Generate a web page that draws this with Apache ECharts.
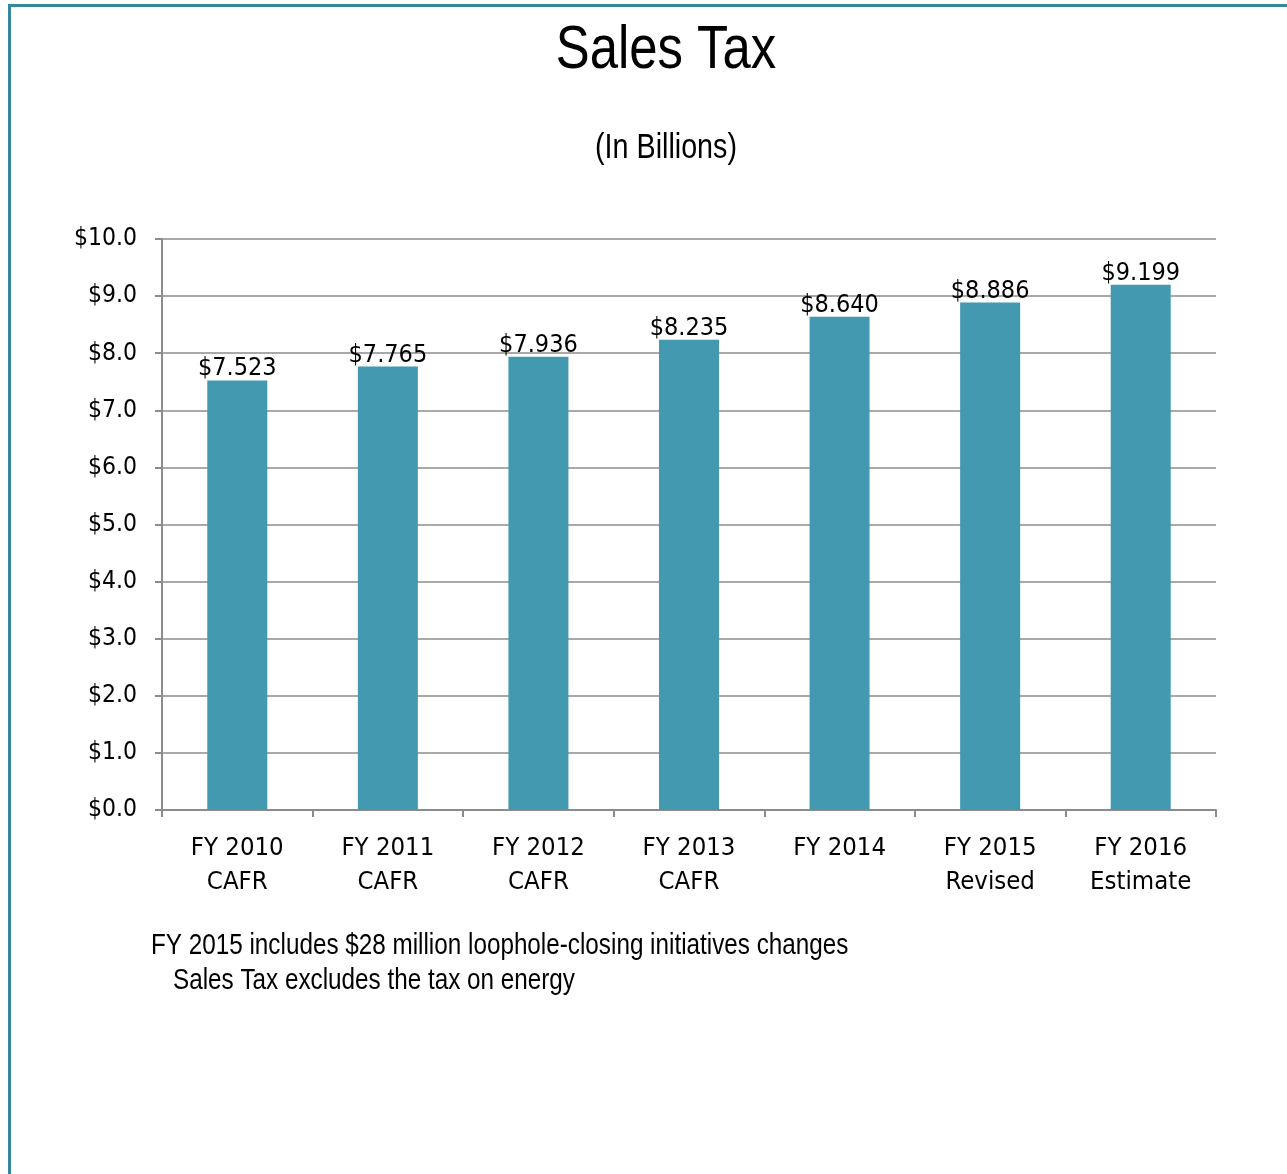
<!DOCTYPE html>
<html><head><meta charset="utf-8">
<script src="https://cdn.jsdelivr.net/npm/echarts@6/dist/echarts.min.js"></script>
<style>html,body{margin:0;padding:0;background:#fff;}#c{width:1287px;height:1174px;}</style>
</head><body><div id="c"></div>
<script>
var categories = ['FY 2010\nCAFR','FY 2011\nCAFR','FY 2012\nCAFR','FY 2013\nCAFR','FY 2014','FY 2015\nRevised','FY 2016\nEstimate'];
var salesTax = [7.523, 7.765, 7.936, 8.235, 8.640, 8.886, 9.199];
var titleText = 'Sales Tax';
var subtitleText = '(In Billions)';
var noteLines = ['FY 2015 includes $28 million loophole-closing initiatives changes', 'Sales Tax excludes the tax on energy'];

var FONT = '"DejaVu Sans Condensed","Liberation Sans",sans-serif';
var NARROW = '"Liberation Sans",Arial,sans-serif';
var SX = 0.82;
var chart = echarts.init(document.getElementById('c'));
chart.setOption({
  backgroundColor: '#fff',
  animation: false,
  grid: {left: 162, right: 71, top: 239, bottom: 364, containLabel: false},
  xAxis: {
    type: 'category', data: categories,
    axisLine: {show: true, lineStyle: {color: '#8c8c8c', width: 2}},
    axisTick: {show: true, length: 7, interval: 0, alignWithLabel: false, lineStyle: {color: '#8c8c8c', width: 2}},
    axisLabel: {interval: 0, margin: 21, fontFamily: FONT, fontSize: 25.5, lineHeight: 34, color: '#000'}
  },
  yAxis: {
    type: 'value', min: 0, max: 10, interval: 1,
    axisLine: {show: true, lineStyle: {color: '#8c8c8c', width: 2}},
    axisTick: {show: true, length: 7, lineStyle: {color: '#8c8c8c', width: 2}},
    splitLine: {show: true, lineStyle: {color: '#8c8c8c', width: 1.5}},
    axisLabel: {margin: 25, fontFamily: FONT, fontSize: 24.5, color: '#000', formatter: function(v){return '$' + v.toFixed(1);}}
  },
  series: [{
    type: 'bar', data: salesTax, barWidth: 60,
    itemStyle: {color: '#4399B0'},
    label: {show: true, position: 'top', distance: -1, fontFamily: FONT, fontSize: 25, color: '#000',
      formatter: function(p){return '$' + p.value.toFixed(3);}}
  }],
  graphic: [
    {type: 'rect', shape: {x: 8, y: 4, width: 1279, height: 3}, style: {fill: '#35879E'}},
    {type: 'rect', shape: {x: 8, y: 4, width: 3, height: 1170}, style: {fill: '#35879E'}},
    {type: 'text', x: 666, y: 51, scaleX: SX, style: {text: titleText, font: '62px ' + NARROW, fill: '#000', textAlign: 'center', textVerticalAlign: 'middle'}},
    {type: 'text', x: 666, y: 148, scaleX: SX, style: {text: subtitleText, font: '35px ' + NARROW, fill: '#000', textAlign: 'center', textVerticalAlign: 'middle'}},
    {type: 'text', x: 151, y: 946, scaleX: SX, style: {text: noteLines[0], font: '29.6px ' + NARROW, fill: '#000', textAlign: 'left', textVerticalAlign: 'middle'}},
    {type: 'text', x: 173, y: 981, scaleX: SX, style: {text: noteLines[1], font: '29.6px ' + NARROW, fill: '#000', textAlign: 'left', textVerticalAlign: 'middle'}}
  ]
});
</script></body></html>
